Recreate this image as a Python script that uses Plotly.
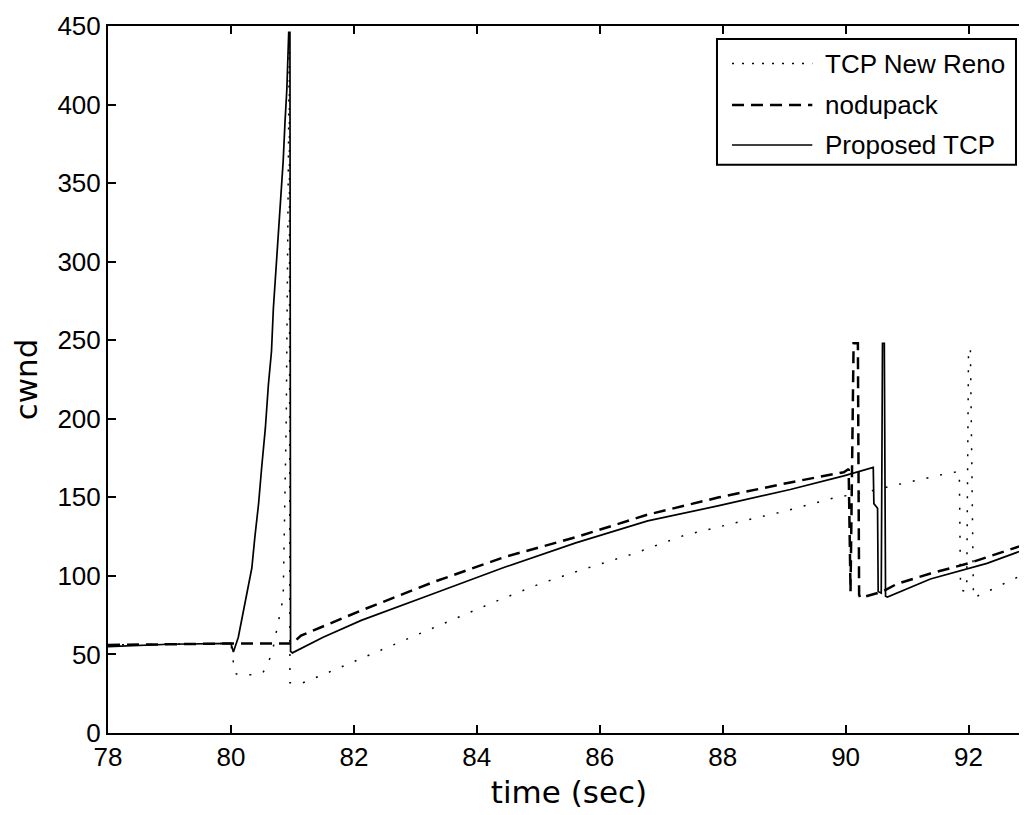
import plotly.graph_objects as go

# ── data ──
t_prop = [78, 79, 80, 80.02, 80.04, 80.12, 80.23, 80.34, 80.39, 80.45, 80.50, 80.56,
          80.61, 80.66, 80.69, 80.75, 80.80, 80.85, 80.88, 80.91, 80.94, 80.96, 80.97,
          81.0, 81.5, 82.12, 83.29, 84.45, 85.61, 86.78, 87.94, 89.10, 89.97, 90.45,
          90.46, 90.52, 90.53, 90.58, 90.60, 90.63, 90.65, 90.68, 91.38, 92.3, 93]
cwnd_prop = [55, 56.5, 57, 54, 51.6, 61, 82, 105, 125, 146, 169, 194,
             222, 243, 270, 304, 336, 364, 389, 410, 446, 446, 52,
             51, 61, 71.7, 88.6, 105.5, 121, 135, 144.7, 155, 163.7, 169,
             146, 143, 90, 89, 248, 248, 87, 86.5, 98, 108, 118]

t_nodup = [78, 80, 81.0, 81.14, 82.12, 83.29, 84.45, 85.61, 86.78, 87.94, 89.10,
           89.97, 90.05, 90.08, 90.13, 90.20, 90.22, 90.24, 90.6, 90.84, 91.38, 92.0, 93]
cwnd_nodup = [56, 57, 57, 62, 78, 96, 112, 124.6, 139, 150, 159.5,
              166, 168, 90, 248, 248, 88, 86, 90, 95, 101.5, 108, 121]

t_reno = [78, 80, 80.04, 80.06, 80.13, 80.41, 80.53, 80.64, 80.69, 80.85, 80.90,
          80.93, 80.95, 80.96, 81.14, 81.54, 82.12, 82.82, 83.58, 84.28, 85.03,
          85.67, 86.54, 87.36, 88.23, 88.99, 89.80, 90.4, 90.84, 91.16, 91.63,
          91.85, 91.87, 91.97, 92.0, 92.03, 92.08, 92.36, 92.95]
cwnd_reno = [56, 57, 45, 38, 37, 37, 39, 48, 55, 86, 200,
             380, 440, 32, 31.5, 37.8, 47.4, 59, 71.7, 83.3, 95,
             103.4, 114, 125.6, 134, 141, 149.5, 154, 158, 161, 165,
             166.5, 91, 90, 245, 245, 86, 91, 102]

x_ticks = [78, 80, 82, 84, 86, 88, 90, 92]
y_ticks = [0, 50, 100, 150, 200, 250, 300, 350, 400, 450]
legend_names = ["TCP New Reno", "nodupack", "Proposed TCP"]
legend_dash = ["2px,8px", "12px,7px", "solid"]
legend_width = [1.5, 2.5, 1.6]

FONT = "Liberation Sans"
TITLE_FONT = "DejaVu Sans"

fig = go.Figure()
fig.add_trace(go.Scatter(x=t_reno, y=cwnd_reno, mode="lines", name=legend_names[0],
                         line=dict(color="black", width=1.5, dash="2px,12px")))
fig.add_trace(go.Scatter(x=t_nodup, y=cwnd_nodup, mode="lines", name=legend_names[1],
                         line=dict(color="black", width=2.5, dash="12px,7px")))
fig.add_trace(go.Scatter(x=t_prop, y=cwnd_prop, mode="lines", name=legend_names[2],
                         line=dict(color="black", width=1.7)))

axis_common = dict(
    showgrid=False, zeroline=False, showline=True, linecolor="black", linewidth=2,
    mirror="ticks", ticks="inside", ticklen=8, tickwidth=2, tickcolor="black",
    tickfont=dict(family=FONT, size=26, color="black"),
)
fig.update_xaxes(range=[78, 93], tickvals=x_ticks,
                 title=dict(text="time (sec)", font=dict(family=TITLE_FONT, size=31, color="black"),
                            standoff=10),
                 **axis_common)
fig.update_yaxes(range=[0, 450], tickvals=y_ticks,
                 title=dict(text="cwnd", font=dict(family=TITLE_FONT, size=31, color="black"),
                            standoff=14),
                 **axis_common)

# legend drawn by hand so the line samples are as long as in the reference
shapes = [dict(type="rect", xref="paper", yref="paper", x0=0.6605, x1=0.9848,
               y0=0.8039, y1=0.9817, line=dict(color="black", width=2),
               fillcolor="white", layer="above")]
annotations = []
rows_y = [0.9468, 0.8881, 0.8317]
for name, dash, w, ry in zip(legend_names, legend_dash, legend_width, rows_y):
    shapes.append(dict(type="line", xref="paper", yref="paper", x0=0.6768, x1=0.7639,
                       y0=ry, y1=ry, line=dict(color="black", width=w, dash=dash),
                       layer="above"))
    annotations.append(dict(xref="paper", yref="paper", x=0.776, y=ry, text=name,
                            showarrow=False, xanchor="left", yanchor="middle",
                            font=dict(family=FONT, size=26, color="black")))

# page body adds an 8px offset, so margins are shifted to land the axes where the reference has them
fig.update_layout(
    width=1027, height=815,
    plot_bgcolor="white", paper_bgcolor="white",
    margin=dict(l=100, r=3, t=16, b=90),
    showlegend=False,
    shapes=shapes, annotations=annotations,
)

fig.write_html("out.html")
